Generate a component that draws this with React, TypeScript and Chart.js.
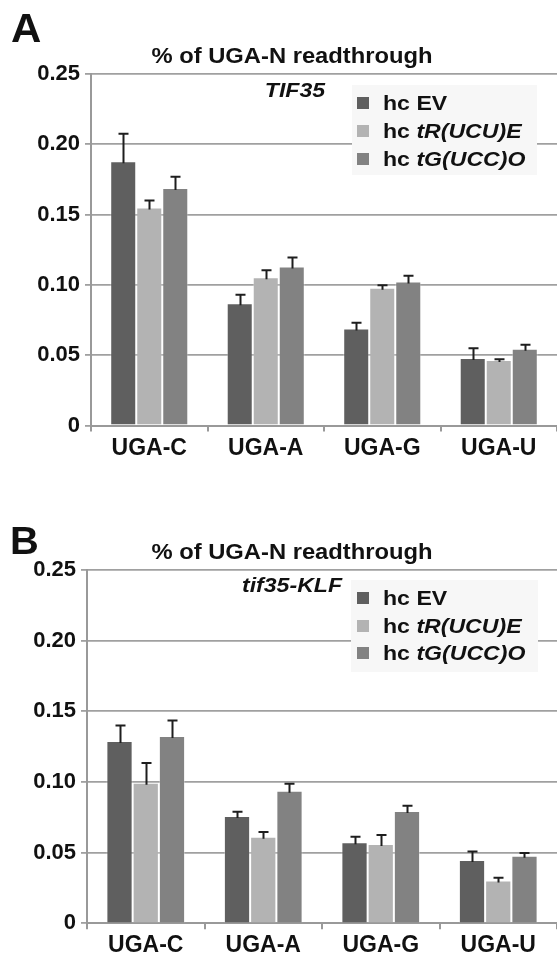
import { useEffect, useRef } from 'react';
import { Chart, registerables } from 'chart.js';

Chart.register(...registerables);

const FONT = "'Liberation Sans', Arial, Helvetica, sans-serif";

const categories = ['UGA-C', 'UGA-A', 'UGA-G', 'UGA-U'];
const yTicks = [0, 0.05, 0.1, 0.15, 0.2, 0.25];

const seriesNames = ['EV', 'tR(UCU)E', 'tG(UCC)O'];
const seriesColors = ['#5f5f5f', '#b3b3b3', '#828282'];

// Panel A: TIF35
const evA = [0.188, 0.087, 0.069, 0.048];
const evErrA = [0.0195, 0.006, 0.004, 0.007];
const trA = [0.155, 0.1055, 0.098, 0.0465];
const trErrA = [0.005, 0.005, 0.0018, 0.0007];
const tgA = [0.169, 0.113, 0.1025, 0.0545];
const tgErrA = [0.008, 0.0064, 0.004, 0.003];

// Panel B: tif35-KLF
const evB = [0.129, 0.076, 0.0573, 0.0448];
const evErrB = [0.011, 0.003, 0.004, 0.006];
const trB = [0.0995, 0.0613, 0.0561, 0.0302];
const trErrB = [0.014, 0.0033, 0.0064, 0.002];
const tgB = [0.1325, 0.0938, 0.0795, 0.0478];
const tgErrB = [0.011, 0.005, 0.0037, 0.002];

const errorBarPlugin = {
  id: 'errorBars',
  afterDatasetsDraw(chart: any) {
    const ctx = chart.ctx;
    const yScale = chart.scales.y;
    ctx.save();
    ctx.strokeStyle = '#1e1e1e';
    ctx.lineWidth = 2;
    chart.data.datasets.forEach((ds: any, i: number) => {
      const meta = chart.getDatasetMeta(i);
      meta.data.forEach((bar: any, j: number) => {
        const v = ds.data[j];
        const e = ds.errors[j];
        const x = Math.round(bar.x) + 0.5;
        const y0 = yScale.getPixelForValue(v);
        const y1 = yScale.getPixelForValue(v + e);
        ctx.beginPath();
        ctx.moveTo(x, y0 + 2);
        ctx.lineTo(x, y1);
        ctx.moveTo(x - 5, y1);
        ctx.lineTo(x + 5, y1);
        ctx.stroke();
      });
    });
    ctx.restore();
  },
};

function stretchedText(ctx: any, text: string, x: number, y: number, sx: number, align: string) {
  ctx.save();
  ctx.translate(x, y);
  ctx.scale(sx, 1);
  ctx.textAlign = align;
  ctx.fillText(text, 0, 0);
  ctx.restore();
}

const panelTextPlugin = {
  id: 'panelText',
  afterDraw(chart: any, _args: any, o: any) {
    const ctx = chart.ctx;
    const SX = 1.1;
    ctx.save();
    ctx.fillStyle = '#111';
    ctx.textBaseline = 'alphabetic';
    // panel letter
    ctx.font = `bold ${o.letterSize}px ${FONT}`;
    stretchedText(ctx, o.letter, o.letterX, o.letterY, 1.05, 'left');
    // title
    ctx.font = `bold 22px ${FONT}`;
    stretchedText(ctx, o.title, o.titleX, o.titleY, 1.08, 'center');
    // subtitle
    ctx.font = `italic bold 21px ${FONT}`;
    stretchedText(ctx, o.subtitle, o.subX, o.subY, SX, 'center');
    // legend
    const lg = o.legend;
    ctx.fillStyle = '#f7f7f7';
    ctx.fillRect(lg.x, lg.y, lg.w, lg.h);
    ctx.textBaseline = 'middle';
    seriesNames.forEach((name, i) => {
      const cy = lg.rows[i];
      ctx.fillStyle = seriesColors[i];
      ctx.fillRect(lg.sqX, cy - 6, 12, 12);
      ctx.fillStyle = '#111';
      ctx.font = `bold 21px ${FONT}`;
      stretchedText(ctx, 'hc ', lg.textX, cy + 1, SX, 'left');
      const w = ctx.measureText('hc ').width * SX;
      if (i > 0) ctx.font = `italic bold 21px ${FONT}`;
      stretchedText(ctx, name, lg.textX + w, cy + 1, SX, 'left');
    });
    ctx.restore();
  },
};

function Panel(props: any) {
  const ref = useRef<HTMLCanvasElement | null>(null);
  const p = props.cfg;
  useEffect(() => {
    const values = [p.ev, p.tr, p.tg];
    const errs = [p.evErr, p.trErr, p.tgErr];
    const chart = new Chart(ref.current as HTMLCanvasElement, {
      type: 'bar',
      data: {
        labels: categories,
        datasets: seriesNames.map((n, i) => ({
          label: 'hc ' + n,
          data: values[i],
          errors: errs[i],
          backgroundColor: seriesColors[i],
          borderColor: 'rgba(255,255,255,0.35)',
          borderWidth: 1,
          barPercentage: 1.0,
          categoryPercentage: 0.67,
        })) as any,
      },
      options: {
        animation: false,
        responsive: false,
        devicePixelRatio: 1,
        layout: { padding: { top: p.plotTop, left: 0, right: 0, bottom: 0 } },
        plugins: {
          legend: { display: false },
          title: { display: false },
          tooltip: { enabled: false },
          panelText: p.text,
        } as any,
        scales: {
          x: {
            offset: true,
            grid: {
              offset: true,
              drawOnChartArea: false,
              drawTicks: true,
              tickLength: 6,
              color: '#999999',
              lineWidth: 2,
            },
            border: { display: true, color: '#999999', width: 2 },
            ticks: {
              color: '#111',
              padding: 3,
              font: { family: FONT, size: 23, weight: 'bold' },
            },
            afterFit(scale: any) {
              scale.height = p.xHeight;
            },
          },
          y: {
            min: 0,
            max: 0.25,
            afterBuildTicks(scale: any) {
              scale.ticks = yTicks.map((v) => ({ value: v }));
            },
            grid: {
              drawTicks: true,
              tickLength: 6,
              color: '#a0a0a0',
              lineWidth: 1.8,
            },
            border: { display: true, color: '#999999', width: 2 },
            ticks: {
              color: '#111',
              padding: 5,
              font: { family: FONT, size: 22, weight: 'bold' },
              callback: (v: any) => (Number(v) === 0 ? '0' : Number(v).toFixed(2)),
            },
            afterFit(scale: any) {
              scale.width = p.axisLeft;
            },
          },
        },
      },
      plugins: [errorBarPlugin, panelTextPlugin],
    } as any);
    return () => chart.destroy();
  }, []);
  return (
    <canvas
      ref={ref}
      width={557}
      height={478}
      style={{ position: 'absolute', left: 0, top: props.top, width: 557, height: 478 }}
    />
  );
}

const cfgA = {
  ev: evA, evErr: evErrA, tr: trA, trErr: trErrA, tg: tgA, tgErr: tgErrA,
  plotTop: 74,
  axisLeft: 91,
  xHeight: 52.5,
  text: {
    letter: 'A', letterSize: 40, letterX: 11, letterY: 42,
    title: '% of UGA-N readthrough', titleX: 292, titleY: 63,
    subtitle: 'TIF35', subX: 295, subY: 97,
    legend: { x: 352, y: 85, w: 185, h: 90, sqX: 357, textX: 383, rows: [103, 131, 159] },
  },
};

const cfgB = {
  ev: evB, evErr: evErrB, tr: trB, trErr: trErrB, tg: tgB, tgErr: tgErrB,
  plotTop: 92,
  axisLeft: 87,
  xHeight: 32.7,
  text: {
    letter: 'B', letterSize: 38, letterX: 10, letterY: 76,
    title: '% of UGA-N readthrough', titleX: 292, titleY: 81,
    subtitle: 'tif35-KLF', subX: 292, subY: 114,
    legend: { x: 351, y: 102, w: 187, h: 92, sqX: 357, textX: 383, rows: [120, 148, 175] },
  },
};

export default function App() {
  return (
    <div style={{ position: 'absolute', left: 0, top: 0, width: 557, height: 956, background: '#fff' }}>
      <Panel top={0} cfg={cfgA} />
      <Panel top={478} cfg={cfgB} />
    </div>
  );
}
